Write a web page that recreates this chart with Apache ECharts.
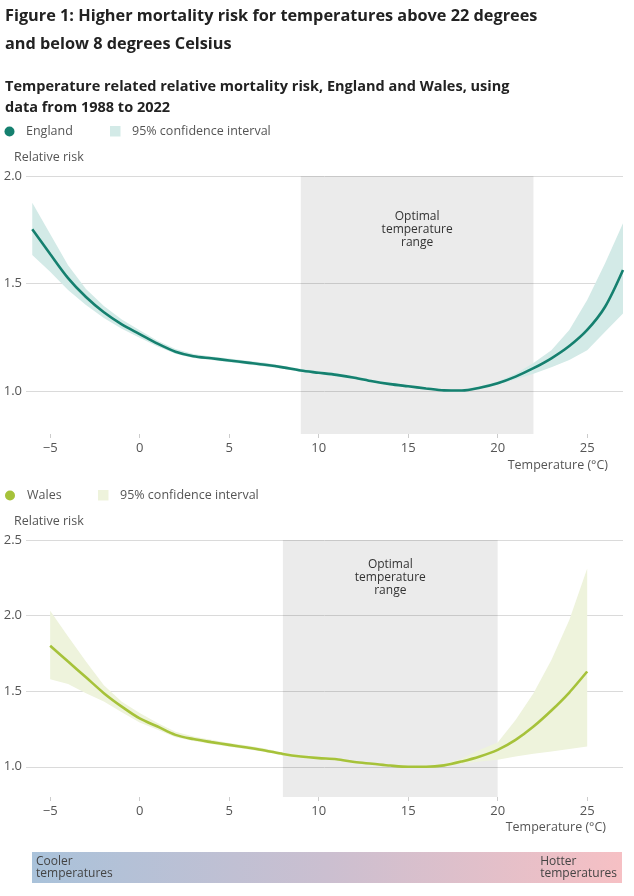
<!DOCTYPE html>
<html><head><meta charset="utf-8">
<script src="https://cdn.jsdelivr.net/npm/echarts@6/dist/echarts.min.js"></script>
<style>html,body{margin:0;padding:0;background:#fff}#c{width:634px;height:896px}</style>
</head><body><div id="c"></div>
<script>
// ---- Data ----
const xTicks = [-5, 0, 5, 10, 15, 20, 25];
const engYTicks = [1.0, 1.5, 2.0];
const walYTicks = [1.0, 1.5, 2.0, 2.5];

const engTemp = [-6,-5,-4,-3,-2,-1,0,1,2,3,4,5,6,7,8,9,10,11,12,13,14,15,16,17,18,19,20,21,22,23,24,25,26,27];
const engRR   = [1.752,1.637,1.525,1.437,1.366,1.31,1.265,1.22,1.183,1.162,1.152,1.142,1.132,1.122,1.11,1.095,1.085,1.075,1.062,1.045,1.032,1.022,1.012,1.003,1.002,1.015,1.036,1.067,1.106,1.152,1.209,1.284,1.392,1.563];
const engLo   = [1.633,1.555,1.47,1.40,1.34,1.29,1.248,1.207,1.173,1.153,1.144,1.134,1.124,1.114,1.103,1.088,1.078,1.068,1.055,1.039,1.026,1.016,1.006,0.998,0.997,1.009,1.029,1.055,1.08,1.11,1.144,1.19,1.276,1.361];
const engHi   = [1.876,1.73,1.585,1.475,1.395,1.332,1.283,1.234,1.195,1.172,1.161,1.151,1.141,1.131,1.118,1.103,1.093,1.083,1.07,1.052,1.039,1.028,1.018,1.009,1.008,1.022,1.044,1.08,1.13,1.19,1.284,1.423,1.594,1.78];

const walTemp = [-5,-4,-3,-2,-1,0,1,2,3,4,5,6,7,8,9,10,11,12,13,14,15,16,17,18,19,20,21,22,23,24,25];
const walRR   = [1.801,1.696,1.592,1.487,1.398,1.32,1.266,1.211,1.183,1.163,1.145,1.127,1.108,1.085,1.068,1.057,1.05,1.031,1.02,1.008,1.0,1.0,1.009,1.035,1.068,1.112,1.178,1.266,1.372,1.491,1.63];
const walLo   = [1.579,1.548,1.487,1.431,1.36,1.293,1.245,1.195,1.17,1.15,1.133,1.116,1.098,1.075,1.058,1.048,1.042,1.024,1.014,1.003,0.996,0.995,1.0,1.02,1.035,1.046,1.068,1.086,1.101,1.117,1.134];
const walHi   = [2.032,1.861,1.696,1.54,1.43,1.355,1.29,1.232,1.2,1.178,1.158,1.14,1.12,1.095,1.078,1.066,1.058,1.038,1.027,1.013,1.005,1.006,1.02,1.055,1.112,1.16,1.31,1.487,1.707,1.971,2.312];

const engOptimal = [9, 22];
const walOptimal = [8, 20];

// ---- Styles ----
const FONT = '"Open Sans", "Noto Sans", sans-serif';
const ENG = '#15806f', ENG_CI = '#d3eae7';
const WAL = '#a6c23a', WAL_CI = '#eef3dc';

function pairs(xs, ys){ return xs.map((x,i)=>[x, ys[i]]); }
function fmtNum(v){ return String(v).replace('-', '\u2212'); }

function xAxisCfg(gi){
  return {
    type:'value', gridIndex:gi, min:-6.35, max:27,
    axisLine:{show:false},
    splitLine:{show:false},
    axisTick:{show:true, length:4, lineStyle:{color:'#cccccc'}, customValues:xTicks},
    axisLabel:{customValues:xTicks, color:'#555', fontSize:13, fontFamily:FONT, margin:8, formatter:fmtNum}
  };
}
function yAxisCfg(gi, max, ticks){
  return {
    type:'value', gridIndex:gi, min:0.8, max:max,
    axisLine:{show:false},
    axisTick:{show:false, customValues:ticks},
    splitLine:{show:true, lineStyle:{color:'#dadada', width:1}},
    axisLabel:{customValues:ticks, color:'#555', fontSize:13, fontFamily:FONT, margin:4,
      formatter:v=>v.toFixed(1)}
  };
}
function band(range, dist){
  return {
    silent:true,
    itemStyle:{color:'rgba(0,0,0,0.08)'},
    label:{show:true, position:'insideTop', distance:dist, color:'#333', fontSize:12, lineHeight:13,
      fontFamily:FONT, align:'center'},
    data:[[{xAxis:range[0], name:'Optimal\ntemperature\nrange'},{xAxis:range[1]}]]
  };
}
// confidence band polygon drawn through the library's coordinate system
function ciSeries(gi, xs, lo, hi, color){
  return {
    type:'custom', xAxisIndex:gi, yAxisIndex:gi, silent:true, z:2,
    data: xs.map((x,i)=>[x, lo[i], hi[i]]),
    encode:{x:0, y:[1,2]},
    renderItem:(params, api)=>{
      if (params.dataIndex !== 0) return null;
      const pts = [];
      for (let i=0;i<xs.length;i++) pts.push(api.coord([xs[i], hi[i]]));
      for (let i=xs.length-1;i>=0;i--) pts.push(api.coord([xs[i], lo[i]]));
      return {type:'polygon', shape:{points:pts}, style:{fill:color}};
    }
  };
}

const option = {
  animation:false,
  backgroundColor:'#fff',
  textStyle:{fontFamily:FONT},
  grid:[
    {left:26, right:11, top:176, height:258},
    {left:26, right:11, top:540, height:257}
  ],
  xAxis:[xAxisCfg(0), xAxisCfg(1)],
  yAxis:[yAxisCfg(0, 2.0, engYTicks), yAxisCfg(1, 2.5, walYTicks)],
  series:[
    ciSeries(0, engTemp, engLo, engHi, ENG_CI),
    {type:'line', name:'England', xAxisIndex:0, yAxisIndex:0, data:pairs(engTemp, engRR),
      symbol:'none', smooth:0.3, lineStyle:{color:ENG, width:2.6}, z:3,
      markArea:band(engOptimal, 34)},

    ciSeries(1, walTemp, walLo, walHi, WAL_CI),
    {type:'line', name:'Wales', xAxisIndex:1, yAxisIndex:1, data:pairs(walTemp, walRR),
      symbol:'none', smooth:0.3, lineStyle:{color:WAL, width:2.6}, z:3,
      markArea:band(walOptimal, 18)}
  ],
  graphic:[
    {type:'text', left:5, top:8, style:{text:'Figure 1: Higher mortality risk for temperatures above 22 degrees', font:'bold 16.3px '+FONT, fill:'#222'}},
    {type:'text', left:5, top:36, style:{text:'and below 8 degrees Celsius', font:'bold 16.3px '+FONT, fill:'#222'}},
    {type:'text', left:5, top:79, style:{text:'Temperature related relative mortality risk, England and Wales, using', font:'bold 14.5px '+FONT, fill:'#222'}},
    {type:'text', left:5, top:100, style:{text:'data from 1988 to 2022', font:'bold 14.5px '+FONT, fill:'#222'}},

    {type:'circle', shape:{cx:9.5, cy:131.5, r:5}, style:{fill:ENG}},
    {type:'text', left:26, top:125, style:{text:'England', font:'12.5px '+FONT, fill:'#555'}},
    {type:'rect', shape:{x:110, y:126, width:10.5, height:10.5}, style:{fill:ENG_CI}},
    {type:'text', left:132, top:125, style:{text:'95% confidence interval', font:'12.5px '+FONT, fill:'#555'}},
    {type:'text', left:14, top:151, style:{text:'Relative risk', font:'12.5px '+FONT, fill:'#555'}},
    {type:'text', right:26, top:459, style:{text:'Temperature (°C)', font:'12.5px '+FONT, fill:'#555'}},

    {type:'circle', shape:{cx:10, cy:495.5, r:5}, style:{fill:WAL}},
    {type:'text', left:27, top:489, style:{text:'Wales', font:'12.5px '+FONT, fill:'#555'}},
    {type:'rect', shape:{x:98, y:490, width:10.5, height:10.5}, style:{fill:WAL_CI}},
    {type:'text', left:120, top:489, style:{text:'95% confidence interval', font:'12.5px '+FONT, fill:'#555'}},
    {type:'text', left:14, top:515, style:{text:'Relative risk', font:'12.5px '+FONT, fill:'#555'}},
    {type:'text', right:28, top:821, style:{text:'Temperature (°C)', font:'12.5px '+FONT, fill:'#555'}},

    {type:'rect', shape:{x:32, y:852, width:590, height:31},
      style:{fill:new echarts.graphic.LinearGradient(0,0,1,0,[
        {offset:0, color:'#a9c2da'},{offset:0.5, color:'#cbbfd0'},{offset:1, color:'#f6c0c4'}])}},
    {type:'text', left:36, top:855, style:{text:'Cooler\ntemperatures', font:'12px '+FONT, lineHeight:12.5, fill:'#444'}},
    {type:'text', right:17, top:855, style:{text:'Hotter\ntemperatures', font:'12px '+FONT, lineHeight:12.5, fill:'#444', align:'right'}}
  ]
};
const chart = echarts.init(document.getElementById('c'));
chart.setOption(option);
</script>
</body></html>
